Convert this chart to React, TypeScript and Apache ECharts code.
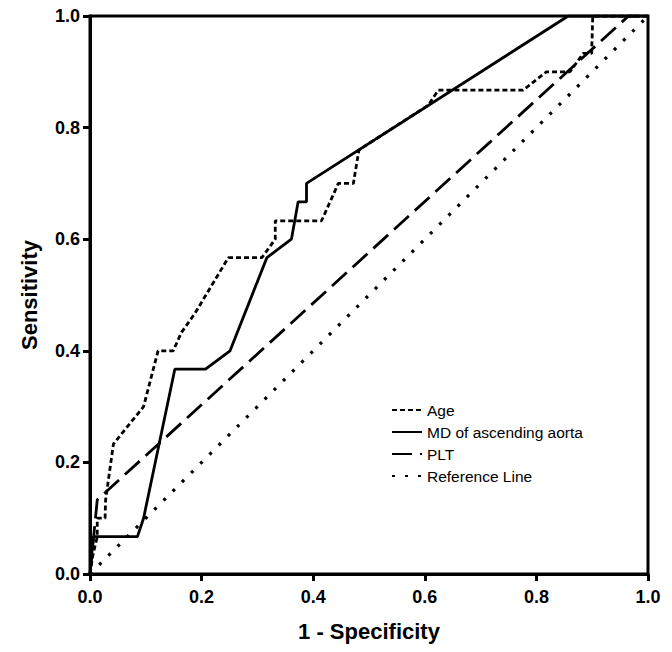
import React, { useEffect, useRef } from "react";
import * as echarts from "echarts";

const tickLabels = ["0.0", "0.2", "0.4", "0.6", "0.8", "1.0"];
const seriesNames = ["Age", "MD of ascending aorta", "PLT", "Reference Line"];

const ageFpr = [0, 0.005, 0.013, 0.013, 0.027, 0.028, 0.042, 0.096, 0.122, 0.149, 0.164, 0.188, 0.248, 0.308, 0.332, 0.332, 0.415, 0.445, 0.472, 0.482, 0.606, 0.624, 0.776, 0.818, 0.86, 0.884, 0.899, 0.901, 1];
const ageTpr = [0, 0.033, 0.067, 0.1, 0.1, 0.133, 0.233, 0.3, 0.4, 0.4, 0.433, 0.467, 0.567, 0.567, 0.6, 0.633, 0.633, 0.7, 0.7, 0.76, 0.84, 0.867, 0.867, 0.9, 0.9, 0.933, 0.933, 1, 1];

const mdFpr = [0, 0.006, 0.085, 0.096, 0.152, 0.207, 0.251, 0.317, 0.361, 0.373, 0.388, 0.388, 0.857, 1];
const mdTpr = [0, 0.067, 0.067, 0.1, 0.367, 0.367, 0.4, 0.567, 0.6, 0.667, 0.667, 0.7, 1, 1];

const pltFpr = [0, 0.013, 0.965, 1];
const pltTpr = [0, 0.133, 1, 1];

const refFpr = [0, 1];
const refTpr = [0, 1];

const zip = (xs: number[], ys: number[]) => xs.map((x, i) => [x, ys[i]]);

const FONT = "'Liberation Sans', Arial, Helvetica, sans-serif";

export default function App() {
  const ref = useRef<HTMLDivElement>(null);
  useEffect(() => {
    document.body.style.margin = "0";
    const chart = echarts.init(ref.current!, null, { renderer: "svg" });
    const mk = (name: string, data: number[][], type: any, width: number) => ({
      name,
      type: "line",
      data,
      showSymbol: false,
      symbol: "none",
      lineStyle: { color: "#000", width, type, cap: "butt" },
      itemStyle: { color: "#000" },
    });
    chart.setOption({
      animation: false,
      backgroundColor: "#fff",
      textStyle: { fontFamily: FONT },
      grid: {
        left: 90,
        top: 16,
        right: 24,
        bottom: 78,
        show: true,
        borderColor: "#000",
        borderWidth: 3,
        backgroundColor: "transparent",
      },
      legend: {
        orient: "vertical",
        left: 386,
        top: 397,
        itemWidth: 30,
        itemHeight: 14,
        itemGap: 6,
        itemStyle: { opacity: 0 },
        textStyle: { fontSize: 15.5, color: "#000", fontFamily: FONT },
        data: seriesNames,
      },
      xAxis: {
        type: "value",
        min: 0,
        max: 1,
        interval: 0.2,
        name: "1 - Specificity",
        nameLocation: "middle",
        nameGap: 46,
        nameTextStyle: { fontSize: 22, fontWeight: "bold", color: "#000", fontFamily: FONT },
        axisLine: { show: true, lineStyle: { color: "#000", width: 3 } },
        axisTick: { show: true, length: 7, lineStyle: { color: "#000", width: 3 } },
        axisLabel: {
          fontSize: 18,
          fontWeight: "bold",
          color: "#000",
          margin: 14,
          fontFamily: FONT,
          formatter: (v: number) => tickLabels[Math.round(v * 5)],
        },
        splitLine: { show: false },
      },
      yAxis: {
        type: "value",
        min: 0,
        max: 1,
        interval: 0.2,
        name: "Sensitivity",
        nameLocation: "middle",
        nameGap: 50,
        nameTextStyle: { fontSize: 22, fontWeight: "bold", color: "#000", fontFamily: FONT },
        axisLine: { show: true, lineStyle: { color: "#000", width: 3 } },
        axisTick: { show: true, length: 7, lineStyle: { color: "#000", width: 3 } },
        axisLabel: {
          fontSize: 18,
          fontWeight: "bold",
          color: "#000",
          margin: 10,
          fontFamily: FONT,
          formatter: (v: number) => tickLabels[Math.round(v * 5)],
        },
        splitLine: { show: false },
      },
      series: [
        mk(seriesNames[0], zip(ageFpr, ageTpr), [5, 3], 2.8),
        mk(seriesNames[1], zip(mdFpr, mdTpr), "solid", 2.8),
        mk(seriesNames[2], zip(pltFpr, pltTpr), [20, 8], 2.8),
        mk(seriesNames[3], zip(refFpr, refTpr), [3, 10], 3.2),
      ],
    });
    return () => chart.dispose();
  }, []);
  return <div ref={ref} style={{ width: 672, height: 652 }} />;
}
